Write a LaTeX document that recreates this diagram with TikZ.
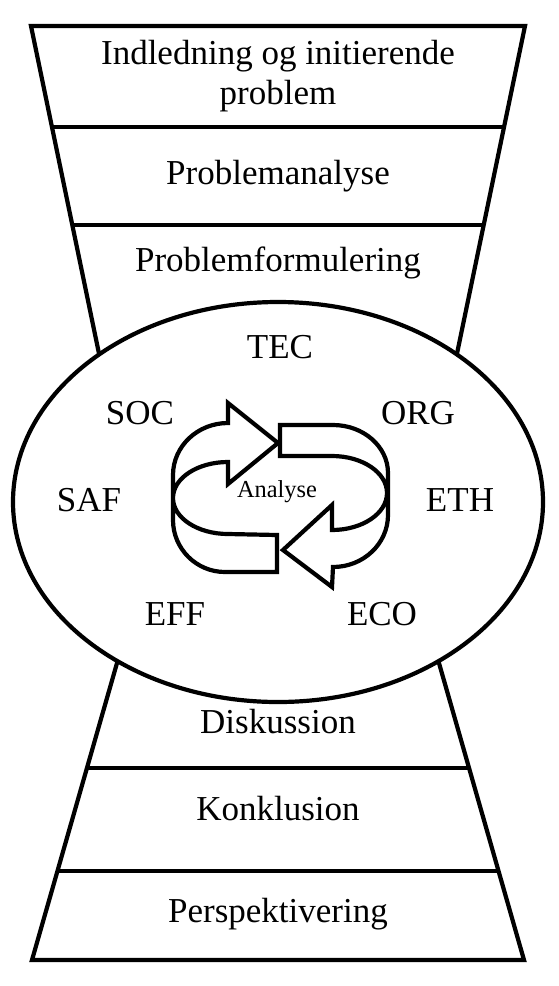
\documentclass[tikz,border=0pt]{standalone}
\usepackage{fontspec}
\setmainfont{Liberation Serif}
\usepackage{tikz}

\begin{document}
\begin{tikzpicture}[x=1pt, y=-1pt, line width=4.2pt, line join=miter,
    every node/.style={font=\fontsize{35}{40}\selectfont, align=center, inner sep=0pt},
    small/.style={font=\fontsize{24.4}{28}\selectfont}]
  \useasboundingbox (0,0) rectangle (559,986);

  % funnel
  \draw (119,450) -- (31,26) -- (525,26) -- (437,450);
  \draw (52,127) -- (504,127);
  \draw (72.4,225) -- (483.6,225);
  \draw (146.5,560) -- (32,960) -- (524,960) -- (409.5,560);
  \draw (86.9,768) -- (469.1,768);
  \draw (57.5,871) -- (498.5,871);

  \node (intro) at (278,76) {Indledning og initierende\\problem};
  \node (analyse) at (278,176) {Problemanalyse};
  \node (form) at (278,263) {Problemformulering};
  \node (disk) at (278,722) {Diskussion};
  \node (konk) at (278,809) {Konklusion};
  \node (persp) at (278,914) {Perspektivering};

  % analysis circle
  \draw[fill=white] (278,502) ellipse [x radius=265, y radius=200];

  \draw (277,572) -- (225,572) arc [start angle=90, end angle=180, x radius=52, y radius=52]
    -- (173,475) arc [start angle=180, end angle=270, x radius=55, y radius=52]
    -- (228,403) -- (278,443) -- (228,484) -- (228,462)
    arc [start angle=270, end angle=90, x radius=55, y radius=36]
    -- (277,535) -- cycle;
  \draw (280,425) -- (333,425) arc [start angle=270, end angle=360, x radius=55, y radius=48]
    -- (388,515) arc [start angle=0, end angle=90, x radius=55, y radius=52]
    -- (332,587) -- (283,550) -- (332,505) -- (332,530)
    arc [start angle=90, end angle=-90, x radius=55, y radius=37]
    -- (280,456) -- cycle;

  \node[small] (cycle) at (277,492) {Analyse};
  \node (tec) at (280,347) {TEC};
  \node (soc) at (140,413) {SOC};
  \node (org) at (418,413) {ORG};
  \node (saf) at (89,500) {SAF};
  \node (eth) at (460,500) {ETH};
  \node (eff) at (175,614) {EFF};
  \node (eco) at (382,614) {ECO};
\end{tikzpicture}
\end{document}
